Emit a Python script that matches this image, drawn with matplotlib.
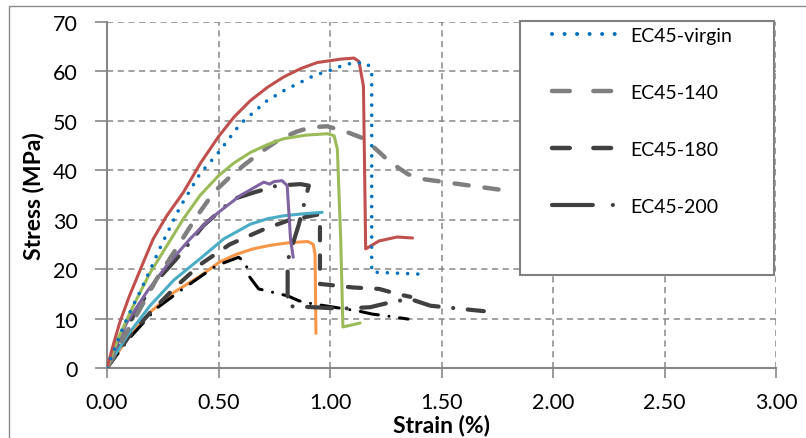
import matplotlib
matplotlib.use("Agg")
import matplotlib.pyplot as plt
from matplotlib.lines import Line2D
from matplotlib.patches import Rectangle

plt.rcParams["font.family"] = ["Lato", "DejaVu Sans"]

# ── Data (strain %, stress MPa) ────────────────────────────────────────────────
virgin_x = [0, 0.035, 0.07, 0.11, 0.148, 0.2, 0.245, 0.327, 0.417, 0.5, 0.598, 0.718, 0.8, 0.868, 0.93, 1.0, 1.05, 1.108, 1.168, 1.187, 1.187, 1.40]
virgin_y = [0, 4.0, 8.0, 12.0, 15.4, 20.5, 25.0, 32.5, 39.3, 43.6, 49.4, 54.1, 56.3, 57.8, 59.2, 60.2, 61.1, 61.8, 61.6, 60.0, 19.4, 19.0]

red_x = [0, 0.03, 0.058, 0.1, 0.163, 0.207, 0.268, 0.342, 0.42, 0.5, 0.57, 0.643, 0.72, 0.793, 0.87, 0.943, 1.05, 1.108, 1.13, 1.15, 1.16, 1.22, 1.30, 1.37]
red_y = [0, 5.0, 9.3, 14.5, 21.4, 26.1, 30.8, 35.5, 41.5, 46.8, 50.8, 54.1, 56.8, 58.9, 60.6, 61.8, 62.5, 62.7, 62.0, 57.0, 24.1, 25.7, 26.5, 26.3]

green_x = [0, 0.05, 0.118, 0.19, 0.268, 0.34, 0.417, 0.5, 0.57, 0.643, 0.72, 0.793, 0.89, 0.988, 1.018, 1.033, 1.048, 1.058, 1.135]
green_y = [0, 6.0, 12.6, 19.0, 24.7, 30.0, 34.9, 38.9, 41.5, 43.6, 45.2, 46.4, 47.1, 47.4, 47.0, 44.3, 26.0, 8.3, 9.1]

ec140_x = [0, 0.06, 0.13, 0.22, 0.31, 0.4, 0.48, 0.55, 0.613, 0.7, 0.778, 0.85, 0.913, 0.988, 1.078, 1.153, 1.22, 1.27, 1.35, 1.42, 1.58, 1.79]
ec140_y = [0, 5.0, 10.5, 17.8, 24.1, 30.5, 35.6, 38.6, 41.0, 44.0, 46.4, 47.8, 48.7, 48.9, 47.7, 46.4, 43.7, 41.6, 39.2, 38.2, 37.2, 35.9]

purple_x = [0, 0.09, 0.18, 0.268, 0.372, 0.44, 0.5, 0.598, 0.703, 0.73, 0.748, 0.785, 0.808, 0.823, 0.835]
purple_y = [0, 9.3, 15.5, 20.7, 26.1, 29.2, 31.5, 34.9, 37.6, 37.2, 37.7, 37.9, 36.9, 26.1, 22.4]

ec200_x = [0, 0.134, 0.22, 0.31, 0.432, 0.568, 0.658, 0.763, 0.868, 0.905, 0.86, 0.81, 0.81, 0.88, 1.05, 1.18, 1.30, 1.37, 1.45, 1.69]
ec200_y = [0, 12.0, 17.5, 22.0, 28.8, 34.2, 35.5, 36.9, 37.2, 36.9, 29.0, 21.7, 12.5, 12.4, 12.0, 12.3, 13.6, 13.8, 12.6, 11.5]

ec180_x = [0, 0.1, 0.2, 0.31, 0.42, 0.55, 0.7, 0.81, 0.94, 0.955, 0.955, 1.0, 1.1, 1.22, 1.30, 1.36]
ec180_y = [0, 6.5, 11.5, 16.5, 21.0, 25.0, 28.0, 29.8, 31.0, 31.0, 17.0, 16.8, 16.3, 16.0, 15.0, 14.4]

cyan_x = [0, 0.09, 0.193, 0.3, 0.417, 0.523, 0.643, 0.72, 0.793, 0.88, 0.965]
cyan_y = [0, 6.5, 12.6, 17.8, 22.1, 26.1, 29.1, 30.2, 30.8, 31.2, 31.5]

orange_x = [0, 0.09, 0.193, 0.3, 0.417, 0.507, 0.58, 0.655, 0.73, 0.807, 0.9, 0.925, 0.933, 0.937]
orange_y = [0, 5.8, 11.3, 15.3, 18.6, 21.5, 23.0, 24.1, 24.8, 25.3, 25.6, 25.0, 23.0, 7.0]

black_x = [0, 0.1, 0.22, 0.34, 0.49, 0.59, 0.62, 0.64, 0.68, 0.81, 0.86, 0.92, 1.13, 1.19, 1.26, 1.35]
black_y = [0, 6.0, 12.0, 16.0, 20.7, 22.4, 21.4, 18.4, 16.0, 14.6, 13.6, 13.0, 11.5, 10.9, 10.5, 9.9]

legend_labels = ["EC45-virgin", "EC45-140", "EC45-180", "EC45-200"]
x_ticks = [0, 0.5, 1.0, 1.5, 2.0, 2.5, 3.0]
y_ticks = [0, 10, 20, 30, 40, 50, 60, 70]

# ── Style ───────────────────────────────────────────────────────────────────────
BLUE = "#0070C0"
RED = "#C0504D"
GREEN = "#9BBB59"
PURPLE = "#8064A2"
CYAN = "#4BACC6"
ORANGE = "#F79646"
GRAY = "#7F7F7F"
DARK = "#404040"
AXIS_GRAY = "#878787"

DOTTED = (0, (0.01, 2.8))
DASHED = (0, (3.2, 3.6))
DASHDOT = (0, (6.0, 3.5, 0.01, 3.5))

fig = plt.figure(figsize=(8.06, 4.39), dpi=100)
ax = fig.add_axes([107 / 806, 70 / 439, 669 / 806, 346 / 439])

solid_kw = dict(linewidth=2.2, solid_capstyle="round", solid_joinstyle="round")
ax.plot(orange_x, orange_y, color=ORANGE, zorder=3, **solid_kw)
ax.plot(black_x, black_y, color="black", linewidth=2.2, linestyle=DASHDOT,
        dash_capstyle="round", zorder=3)
ax.plot(ec200_x, ec200_y, color=DARK, linewidth=3.0, linestyle=DASHDOT,
        dash_capstyle="round", zorder=3)
ax.plot(ec180_x, ec180_y, color=DARK, linewidth=3.0, linestyle=DASHED,
        dash_capstyle="round", zorder=3)
ax.plot(cyan_x, cyan_y, color=CYAN, zorder=3, **solid_kw)
ax.plot(purple_x, purple_y, color=PURPLE, zorder=3, **solid_kw)
ax.plot(ec140_x, ec140_y, color=GRAY, linewidth=3.2, linestyle=DASHED,
        dash_capstyle="round", zorder=3)
ax.plot(green_x, green_y, color=GREEN, zorder=3, **solid_kw)
ax.plot(red_x, red_y, color=RED, zorder=3, **solid_kw)
ax.plot(virgin_x, virgin_y, color=BLUE, linewidth=2.6, linestyle=DOTTED,
        dash_capstyle="round", zorder=4)

ax.set_xlim(0, 3)
ax.set_ylim(0, 70)
ax.set_xticks(x_ticks)
ax.set_yticks(y_ticks)
ax.set_xticklabels([f"{v:.2f}" for v in x_ticks])
ax.set_yticklabels([str(v) for v in y_ticks])
ax.tick_params(axis="both", labelsize=15.5, colors=AXIS_GRAY, labelcolor="black",
               width=1.2)
ax.tick_params(axis="x", length=7, pad=10)
ax.tick_params(axis="y", length=9, pad=12)

ax.grid(True, color=AXIS_GRAY, linestyle=(0, (4, 3)), linewidth=1.1)
ax.set_axisbelow(True)
for side in ("top", "right"):
    ax.spines[side].set_visible(False)
for side in ("left", "bottom"):
    ax.spines[side].set_color(AXIS_GRAY)
    ax.spines[side].set_linewidth(1.5)

ax.set_xlabel("Strain (%)", fontsize=16.5, fontweight="bold")
ax.set_ylabel("Stress (MPa)", fontsize=16.5, fontweight="bold")
ax.xaxis.set_label_coords(0.5, (369 - 426) / 346)
ax.xaxis.label.set_va("center")
ax.yaxis.set_label_coords((33 - 107) / 669, 0.5)
ax.yaxis.label.set_va("center")

# legend frame drawn by hand, entries on top of it
frame = Rectangle((0.617, 0.269), 0.380, 0.734, transform=ax.transAxes,
                  facecolor="white", edgecolor="#808080", linewidth=1.5,
                  zorder=5, clip_on=False)
ax.add_patch(frame)

handles = [
    Line2D([], [], color=BLUE, linewidth=2.9, linestyle=(0, (0.01, 3.1)),
           dash_capstyle="round"),
    Line2D([], [], color=GRAY, linewidth=3.2, linestyle=(0, (4.0, 5.3)),
           dash_capstyle="round"),
    Line2D([], [], color=DARK, linewidth=3.2, linestyle=(0, (4.0, 5.3)),
           dash_capstyle="round"),
    Line2D([], [], color=DARK, linewidth=3.0, linestyle=(0, (9.8, 4.8, 0.01, 4.8)),
           dash_capstyle="round"),
]
leg = ax.legend(handles, legend_labels, loc="upper left",
                bbox_to_anchor=((552 - 107) / 669, (369 - 28) / 346),
                frameon=False, fontsize=14, handlelength=3.25, handletextpad=0.75,
                labelspacing=2.05, borderpad=0, borderaxespad=0)
leg.set_zorder(6)

# thin outer chart border
fig.patches.append(Rectangle((9 / 806, -0.05), 1.0, (439 - 7) / 439 + 0.05,
                             transform=fig.transFigure, fill=False,
                             edgecolor="#8c8c8c", linewidth=1.0))

fig.savefig("out.png", dpi=100)
